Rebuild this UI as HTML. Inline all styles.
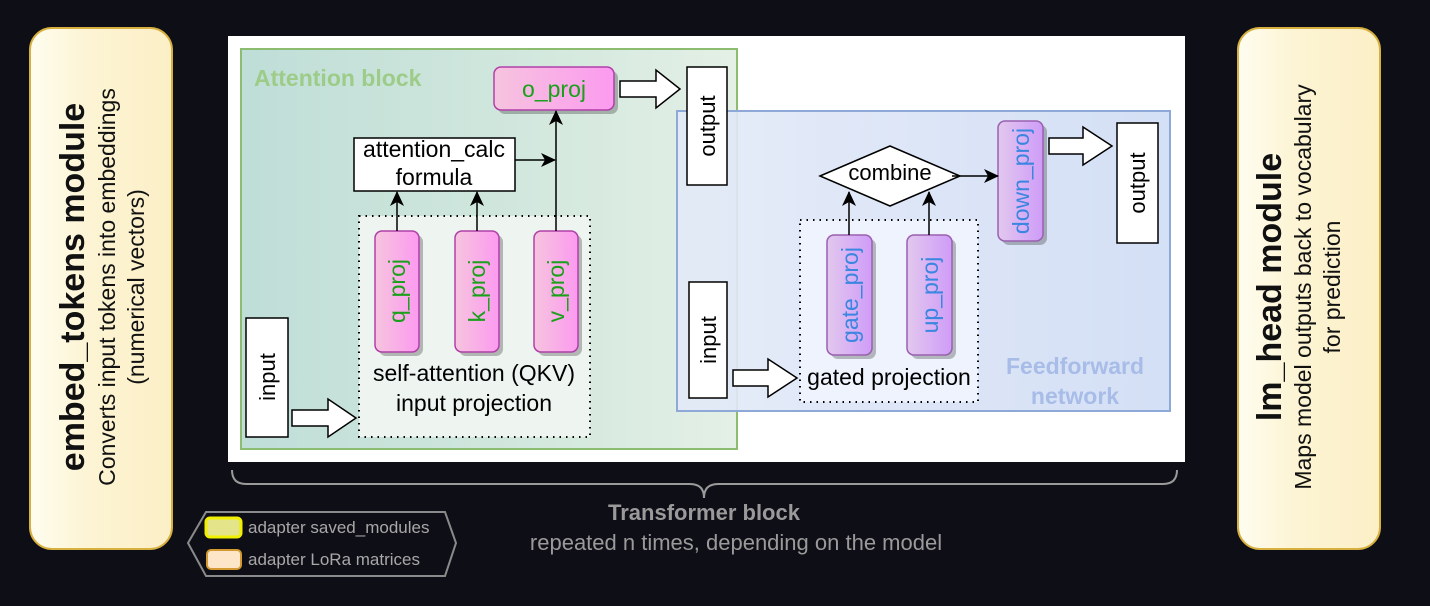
<!DOCTYPE html>
<html><head><style>
html,body{margin:0;padding:0;background:#0e0e16;}
svg{display:block;font-family:"Liberation Sans",sans-serif;}
</style></head><body>
<svg width="1430" height="606" viewBox="0 0 1430 606" xmlns="http://www.w3.org/2000/svg">
<defs>
<linearGradient id="yel" x1="0" x2="1"><stop offset="0" stop-color="#fffdf0"/><stop offset="0.4" stop-color="#fcf4d4"/><stop offset="1" stop-color="#fbefc6"/></linearGradient>
<linearGradient id="att" x1="0" x2="1"><stop offset="0" stop-color="#bfded8"/><stop offset="0.5" stop-color="#cfe6dc"/><stop offset="1" stop-color="#e4f0e6"/></linearGradient>
<linearGradient id="ffn" x1="0" x2="1"><stop offset="0" stop-color="#e3eaf8"/><stop offset="1" stop-color="#cfdcf4"/></linearGradient>
<linearGradient id="pink" x1="0" x2="1"><stop offset="0" stop-color="#f6c4de"/><stop offset="1" stop-color="#fc9af0"/></linearGradient>
<linearGradient id="purp" x1="0" x2="1"><stop offset="0" stop-color="#e2c8ee"/><stop offset="1" stop-color="#cf9cf8"/></linearGradient>
<marker id="ah" markerWidth="16" markerHeight="14" refX="14" refY="7" orient="auto" markerUnits="userSpaceOnUse"><path d="M0,0 L15,7 L0,14 L4,7 Z" fill="#000"/></marker>
</defs>
<rect x="30" y="28" width="142" height="521" rx="22" fill="url(#yel)" stroke="#d8b040" stroke-width="2"/>
<rect x="1238" y="28" width="142" height="521" rx="22" fill="url(#yel)" stroke="#d8b040" stroke-width="2"/>
<g text-anchor="middle" fill="#111">
<text transform="translate(84,287) rotate(-90)" font-size="34" font-weight="bold">embed_tokens module</text>
<text transform="translate(115,287) rotate(-90)" font-size="23">Converts input tokens into embeddings</text>
<text transform="translate(144,287) rotate(-90)" font-size="23">(numerical vectors)</text>
<text transform="translate(1281,287) rotate(-90)" font-size="34" font-weight="bold">lm_head module</text>
<text transform="translate(1311,287) rotate(-90)" font-size="23">Maps model outputs back to vocabulary</text>
<text transform="translate(1340,287) rotate(-90)" font-size="23">for prediction</text>
</g>
<rect x="228" y="36" width="957" height="426" fill="#fff"/>
<rect x="241" y="49" width="496" height="400" fill="url(#att)" stroke="#8cbc70" stroke-width="2"/>
<text x="254" y="86" font-size="23" font-weight="bold" fill="#9ccc88">Attention block</text>
<rect x="677" y="111" width="493" height="300" fill="url(#ffn)" fill-opacity="0.9" stroke="#8ea8d8" stroke-width="2"/>
<text x="1075" y="374" font-size="23" font-weight="bold" fill="#a8bce8" text-anchor="middle">Feedforward</text>
<text x="1075" y="404" font-size="23" font-weight="bold" fill="#a8bce8" text-anchor="middle">network</text>
<rect x="359" y="216" width="231" height="221" fill="#eef5f1" stroke="#000" stroke-width="2" stroke-dasharray="1.5,5"/>
<rect x="800" y="220" width="178" height="182" fill="#eef3fd" stroke="#000" stroke-width="2" stroke-dasharray="1.5,5"/>
<rect x="354" y="138" width="161" height="53" fill="#fff" stroke="#000" stroke-width="1.5"/>
<text x="434" y="157" font-size="23" text-anchor="middle">attention_calc</text>
<text x="434" y="185" font-size="23" text-anchor="middle">formula</text>
<rect x="687" y="67" width="40" height="118" fill="#fff" stroke="#000" stroke-width="1.5"/>
<text transform="translate(715,126) rotate(-90)" font-size="22" text-anchor="middle">output</text>
<rect x="246" y="318" width="42" height="119" fill="#fff" stroke="#000" stroke-width="1.5"/>
<text transform="translate(275,377) rotate(-90)" font-size="22" text-anchor="middle">input</text>
<rect x="689" y="282" width="38" height="116" fill="#fff" stroke="#000" stroke-width="1.5"/>
<text transform="translate(716,340) rotate(-90)" font-size="22" text-anchor="middle">input</text>
<rect x="1117" y="123" width="41" height="120" fill="#fff" stroke="#000" stroke-width="1.5"/>
<text transform="translate(1145,183) rotate(-90)" font-size="22" text-anchor="middle">output</text>
<g fill="#000" opacity="0.25">
<rect x="498" y="71" width="120" height="43" rx="7"/>
<rect x="379" y="235" width="44" height="121" rx="7"/>
<rect x="459" y="235" width="44" height="121" rx="7"/>
<rect x="538" y="235" width="44" height="121" rx="7"/>
<rect x="831" y="239" width="45" height="120" rx="7"/>
<rect x="911" y="239" width="45" height="120" rx="7"/>
<rect x="1002" y="125" width="45" height="120" rx="7"/>
</g>
<g stroke="#b040a8" stroke-width="1.5" fill="url(#pink)">
<rect x="494" y="67" width="120" height="43" rx="7"/>
<rect x="375" y="231" width="44" height="121" rx="7"/>
<rect x="455" y="231" width="44" height="121" rx="7"/>
<rect x="534" y="231" width="44" height="121" rx="7"/>
</g>
<g stroke="#9a60b0" stroke-width="1.5" fill="url(#purp)">
<rect x="827" y="235" width="45" height="120" rx="7"/>
<rect x="907" y="235" width="45" height="120" rx="7"/>
<rect x="998" y="121" width="45" height="120" rx="7"/>
</g>
<g font-size="23" text-anchor="middle" fill="#1aa01a">
<text x="554" y="97">o_proj</text>
<text transform="translate(405,291) rotate(-90)">q_proj</text>
<text transform="translate(485,291) rotate(-90)">k_proj</text>
<text transform="translate(564,291) rotate(-90)">v_proj</text>
</g>
<g font-size="23" text-anchor="middle" fill="#3a86e0">
<text transform="translate(858,295) rotate(-90)">gate_proj</text>
<text transform="translate(938,295) rotate(-90)">up_proj</text>
<text transform="translate(1029,181) rotate(-90)">down_proj</text>
</g>
<text x="474" y="381" font-size="23" text-anchor="middle">self-attention (QKV)</text>
<text x="474" y="411" font-size="23" text-anchor="middle">input projection</text>
<text x="889" y="385" font-size="23" text-anchor="middle">gated projection</text>
<polygon points="820,176 890,146 960,176 890,206" fill="#fff" stroke="#000" stroke-width="1.5"/>
<text x="890" y="180" font-size="22" text-anchor="middle">combine</text>
<g stroke="#000" stroke-width="1.5" fill="none" marker-end="url(#ah)">
<line x1="397" y1="231" x2="397" y2="192"/>
<line x1="477" y1="231" x2="477" y2="192"/>
<line x1="556" y1="231" x2="556" y2="111"/>
<line x1="515" y1="160" x2="555" y2="160"/>
<line x1="849" y1="235" x2="849" y2="192"/>
<line x1="929" y1="235" x2="929" y2="192"/>
<line x1="952" y1="176" x2="998" y2="176"/>
</g>
<g fill="#fff" stroke="#000" stroke-width="1.5">
<polygon points="620,81 656,81 656,70 680,89 656,108 656,97 620,97"/>
<polygon points="292,410 328,410 328,399 356,418 328,437 328,426 292,426"/>
<polygon points="733,370 768,370 768,359 797,378 768,397 768,386 733,386"/>
<polygon points="1049,138 1083,138 1083,127 1112,146 1083,165 1083,154 1049,154"/>
</g>
<path d="M232,470 Q232,484 246,484 L690,484 Q704,484 704,498 Q704,484 718,484 L1163,484 Q1177,484 1177,470" fill="none" stroke="#9a9a9a" stroke-width="2"/>
<text x="704" y="520" font-size="22" font-weight="bold" fill="#9a9a9a" text-anchor="middle">Transformer block</text>
<text x="736" y="550" font-size="22" fill="#9a9a9a" text-anchor="middle">repeated n times, depending on the model</text>
<polygon points="188,543 206,512 445,512 456,543 445,576 206,576" fill="#0e0e16" stroke="#8a8a8a" stroke-width="2"/>
<rect x="206" y="518" width="35" height="19" rx="4" fill="#e4e48a" stroke="#f0f000" stroke-width="3"/>
<rect x="207" y="550" width="34" height="19" rx="4" fill="#fde6c8" stroke="#d49a30" stroke-width="2"/>
<text x="248" y="533" font-size="17" fill="#a8a8a8">adapter saved_modules</text>
<text x="248" y="565" font-size="17" fill="#a8a8a8">adapter LoRa matrices</text>
</svg>
</body></html>
